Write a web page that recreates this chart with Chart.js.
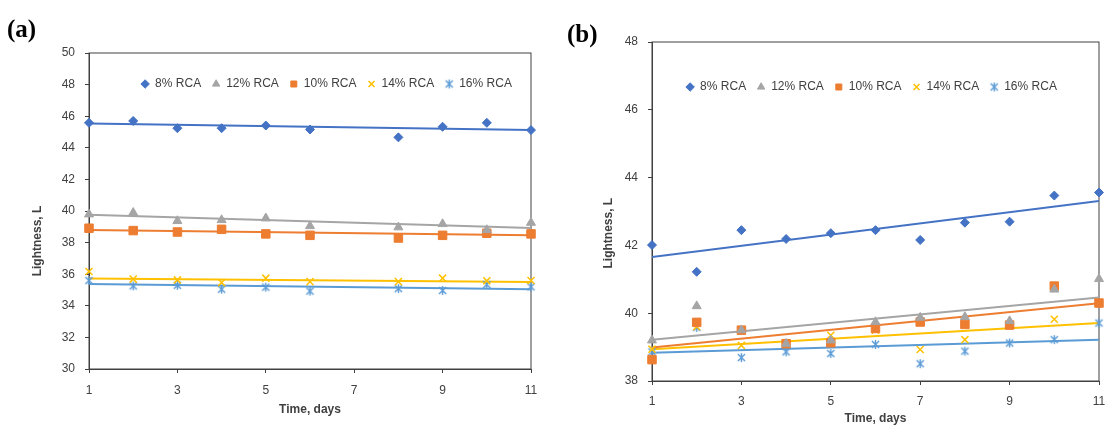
<!DOCTYPE html>
<html>
<head>
<meta charset="utf-8">
<script src="https://cdn.jsdelivr.net/npm/chart.js@4.4.1/dist/chart.umd.min.js"></script>
<style>
  html, body { margin: 0; padding: 0; background: #fff; overflow: hidden; width: 1111px; height: 425px; }
  .panel { position: absolute; top: 0; }
  .tag { position: absolute; font: bold 25px 'Liberation Serif', 'Times New Roman', serif; color: #000; line-height: 29px; }
</style>
</head>
<body>
<div class="panel" style="left:0;width:560px;height:425px"><canvas id="chartA"></canvas></div>
<div class="panel" style="left:560px;width:551px;height:440px"><canvas id="chartB"></canvas></div>
<div class="tag" style="left:7px;top:14px">(a)</div>
<div class="tag" style="left:567px;top:19px">(b)</div>
<script>
// ---- data ----
const seriesNames = ['8% RCA', '12% RCA', '10% RCA', '14% RCA', '16% RCA'];

const daysA = [1, 2, 3, 4, 5, 6, 8, 9, 10, 11];
const a8  = [45.58, 45.70, 45.24, 45.24, 45.41, 45.16, 44.66, 45.33, 45.58, 45.12];
const a12 = [39.79, 39.89, 39.37, 39.43, 39.54, 39.05, 38.97, 39.18, 38.80, 39.26];
const a10 = [38.91, 38.76, 38.67, 38.84, 38.55, 38.46, 38.29, 38.46, 38.59, 38.55];
const a14 = [36.17, 35.69, 35.64, 35.47, 35.75, 35.53, 35.53, 35.75, 35.58, 35.60];
const a16 = [35.60, 35.26, 35.30, 35.05, 35.18, 34.93, 35.09, 34.97, 35.35, 35.20];
// linear trend lines, value at day 1 and day 11
const trendA = [[45.54, 45.12], [39.77, 38.93], [38.80, 38.46], [35.72, 35.51], [35.38, 35.05]];

const daysB = [1, 2, 3, 4, 5, 6, 7, 8, 9, 10, 11];
const b8  = [42.01, 41.22, 42.45, 42.19, 42.36, 42.45, 42.16, 42.67, 42.70, 43.47, 43.56];
const b12 = [39.20, 40.21, 39.50, 39.10, 39.20, 39.74, 39.87, 39.89, 39.77, 40.70, 41.01];
const b10 = [38.63, 39.73, 39.50, 39.10, 39.13, 39.55, 39.74, 39.67, 39.65, 40.80, 40.30];
const b14 = [38.94, 39.60, 39.05, 39.10, 39.35, 39.50, 38.93, 39.22, 39.65, 39.82, 40.30];
const b16 = [38.86, 39.58, 38.69, 38.86, 38.81, 39.08, 38.51, 38.88, 39.12, 39.22, 39.71];
const trendB = [[41.66, 43.31], [39.22, 40.46], [38.99, 40.29], [38.94, 39.71], [38.83, 39.22]];

const trendDays = [1, 11];
const xTicks = [1, 11, 2];     // min, max, step
const yTicksA = [30, 50, 2];
const yTicksB = [38, 48, 2];

// ---- styling ----
Chart.defaults.font.family = "'Liberation Sans', Arial, sans-serif";
const colors = ['#4472C4', '#A5A5A5', '#ED7D31', '#FFC000', '#5B9BD5'];
const textColor = '#404040';
const axisColor = '#404040';

function asterisk(size, color) {
  const c = document.createElement('canvas');
  c.width = size; c.height = size;
  const g = c.getContext('2d');
  const m = size / 2, r = size / 2 - 1, d = r * 0.8;
  g.strokeStyle = color; g.lineWidth = 1.4;
  g.beginPath();
  g.moveTo(m - d, m - d); g.lineTo(m + d, m + d);
  g.moveTo(m + d, m - d); g.lineTo(m - d, m + d);
  g.moveTo(m, m - r); g.lineTo(m, m + r);
  g.stroke();
  return c;
}
const styles = ['rectRot', 'triangle', 'rect', 'crossRot', asterisk(11, colors[4])];
const radii = [4.5, 5.2, 6, 5, 5];

function buildDatasets(days, values, trend) {
  const sets = values.map((vals, i) => ({
    type: 'scatter',
    label: seriesNames[i],
    data: days.map((d, j) => ({ x: d, y: vals[j] })),
    pointStyle: styles[i],
    pointRadius: radii[i],
    backgroundColor: colors[i],
    borderColor: colors[i],
    borderWidth: i === 3 ? 1.5 : 1,
    clip: false,
    order: 0
  }));
  trend.forEach((t, i) => sets.push({
    type: 'line',
    label: 'trend ' + seriesNames[i],
    data: trendDays.map((d, j) => ({ x: d, y: t[j] })),
    borderColor: colors[i],
    borderWidth: 2,
    pointRadius: 0,
    fill: false,
    order: 1
  }));
  return sets;
}

// moves the legend down into the plot area
const legendShift = {
  id: 'legendShift',
  afterLayout(chart, args, opts) {
    const lg = chart.legend;
    if (!lg) return;
    lg.left += opts.dx; lg.right += opts.dx;
    lg.top += opts.dy; lg.bottom += opts.dy;
  }
};

// closed box round the plot area
const frame = {
  id: 'frame',
  beforeDatasetsDraw(chart) {
    const { ctx, chartArea: a } = chart;
    ctx.save();
    ctx.strokeStyle = axisColor;
    ctx.lineWidth = 1;
    ctx.strokeRect(a.left, a.top, a.right - a.left, a.bottom - a.top);
    ctx.restore();
  }
};

function makeChart(id, datasets, yTicks, cfg) {
  return new Chart(document.getElementById(id), {
    type: 'scatter',
    data: { datasets },
    options: {
      responsive: true,
      maintainAspectRatio: false,
      animation: false,
      layout: { padding: cfg.padding },
      plugins: {
        legend: {
          position: 'top',
          labels: {
            usePointStyle: true,
            boxWidth: 8,
            boxHeight: 6,
            padding: 11,
            color: textColor,
            font: { size: 12 },
            filter: item => item.datasetIndex < 5
          }
        },
        tooltip: { enabled: false },
        legendShift: cfg.shift
      },
      scales: {
        x: {
          type: 'linear',
          min: xTicks[0], max: xTicks[1],
          ticks: { stepSize: xTicks[2], color: textColor, padding: cfg.xPad, font: { size: 12 } },
          grid: { drawOnChartArea: false, tickLength: 4, color: axisColor },
          border: { color: axisColor },
          title: { display: true, text: 'Time, days', color: textColor, font: { size: 12, weight: 'bold' }, padding: { top: 0, bottom: cfg.xTitlePad } },
          afterFit: s => { s.height = cfg.xH; s.paddingLeft = 0; s.paddingRight = 0; }
        },
        y: {
          type: 'linear',
          min: yTicks[0], max: yTicks[1],
          ticks: { stepSize: yTicks[2], color: textColor, padding: 10, font: { size: 12 } },
          grid: { drawOnChartArea: false, tickLength: 4, color: axisColor },
          border: { color: axisColor },
          title: { display: true, text: 'Lightness, L' + '\u00a0'.repeat(cfg.yShift), color: textColor, font: { size: 12, weight: 'bold' }, padding: { top: cfg.yTitlePad, bottom: 0 } },
          afterFit: s => { s.width = cfg.yW; s.paddingTop = 0; s.paddingBottom = 0; }
        }
      }
    },
    plugins: [legendShift, frame]
  });
}

makeChart('chartA', buildDatasets(daysA, [a8, a12, a10, a14, a16], trendA), yTicksA, {
  padding: { top: 20, right: 29, left: 0, bottom: 0 },
  shift: { dx: 61, dy: 47 },
  xPad: 10, xTitlePad: 8, xH: 56,
  yW: 89, yTitlePad: 30, yShift: 18
});

makeChart('chartB', buildDatasets(daysB, [b8, b12, b10, b14, b16], trendB), yTicksB, {
  padding: { top: 9, right: 12, left: 0, bottom: 0 },
  shift: { dx: 42, dy: 61 },
  xPad: 9, xTitlePad: 14, xH: 59,
  yW: 92, yTitlePad: 41, yShift: 13
});
</script>
</body>
</html>
